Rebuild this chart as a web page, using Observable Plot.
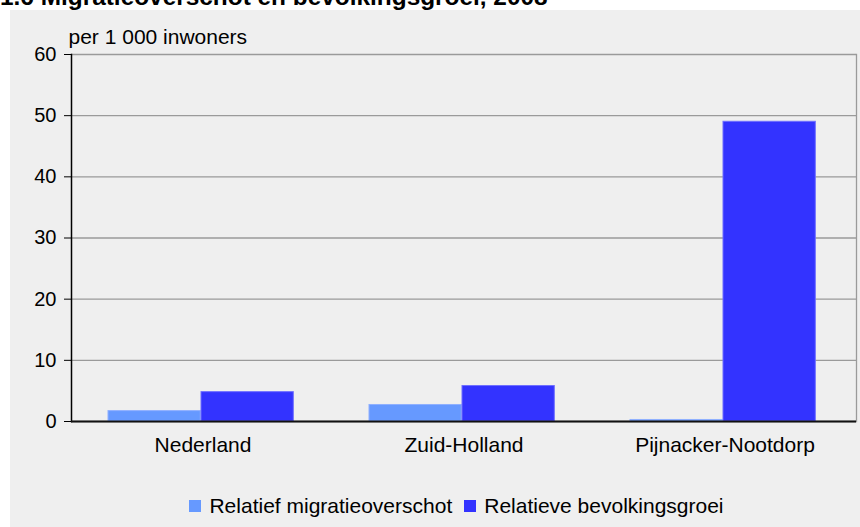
<!DOCTYPE html>
<html>
<head>
<meta charset="utf-8">
<script src="https://cdn.jsdelivr.net/npm/d3@7"></script>
<script src="https://cdn.jsdelivr.net/npm/@observablehq/plot@0.6"></script>
<style>
  html, body { margin: 0; padding: 0; background: #ffffff; width: 860px; height: 527px; overflow: hidden; }
  body { position: relative; font-family: "Liberation Sans", Arial, sans-serif; }
  #title { position: absolute; left: 0px; top: -15px; font-size: 24.4px; font-weight: bold; line-height: 24px; white-space: nowrap; color: #000; }
  #panel { position: absolute; left: 10px; top: 10px; width: 850px; height: 517px; background: #efefef; }
  #chart { position: absolute; left: 10px; top: 10px; }
  #legend { position: absolute; left: 64px; top: 495px; width: 785px; display: flex; justify-content: center; align-items: center; font-size: 21px; line-height: 21px; color: #000; }
  .item { display: flex; align-items: center; margin: 0 6px; }
  .sw { width: 12px; height: 12px; margin-right: 8px; }
</style>
</head>
<body>
<div id="title">1.6 Migratieoverschot en bevolkingsgroei, 2008</div>
<div id="panel"></div>
<div id="chart"></div>
<div id="legend"></div>
<script>
const categories = ["Nederland", "Zuid-Holland", "Pijnacker-Nootdorp"];
const migratieoverschot = [1.7, 2.7, 0.25];
const bevolkingsgroei = [4.8, 5.8, 49.0];
const seriesNames = ["Relatief migratieoverschot", "Relatieve bevolkingsgroei"];
const seriesColors = ["#6699ff", "#3333ff"];
const yTicks = [0, 10, 20, 30, 40, 50, 60];
const yLabel = "per 1 000 inwoners";

const rows1 = categories.map((c, i) => ({cat: c, value: migratieoverschot[i]}));
const rows2 = categories.map((c, i) => ({cat: c, value: bevolkingsgroei[i]}));

const chart = Plot.plot({
  width: 850,
  height: 460,
  marginLeft: 61,
  marginRight: 4,
  marginTop: 44,
  marginBottom: 49,
  style: {fontFamily: "'Liberation Sans', Arial, sans-serif", fontSize: "21px", color: "#000", background: "transparent"},
  x: {domain: categories, padding: 0, label: null, tickSize: 0, tickPadding: 16},
  y: {domain: [0, 60], ticks: yTicks, label: null, tickSize: 7, tickPadding: 8},
  marks: [
    Plot.gridY(yTicks, {stroke: "#9a9a9a", strokeOpacity: 1, strokeWidth: 1.3}),
    Plot.frame({anchor: "right", stroke: "#9a9a9a", strokeWidth: 1.3}),
    Plot.barY(rows1, {x: "cat", y: "value", fill: seriesColors[0], stroke: "#8fb0ff", strokeWidth: 1, insetLeft: 36, insetRight: 132.7}),
    Plot.barY(rows2, {x: "cat", y: "value", fill: seriesColors[1], stroke: "#6f6fff", strokeWidth: 1, insetLeft: 129, insetRight: 39.7}),
    Plot.frame({anchor: "left", stroke: "#000", strokeWidth: 1.5}),
    Plot.ruleY([0], {stroke: "#111", strokeWidth: 2}),
    Plot.axisY({ticks: yTicks, tickSize: 7, tickPadding: 8, fontSize: 20, label: null}),
    Plot.axisX({tickSize: 0, tickPadding: 16, label: null}),
    Plot.text([yLabel], {frameAnchor: "top-left", textAnchor: "start", lineAnchor: "bottom", dx: -3, dy: -11, fill: "#000"})
  ]
});
document.getElementById("chart").appendChild(chart);

const legend = d3.select("#legend");
seriesNames.forEach((name, i) => {
  const item = legend.append("div").attr("class", "item");
  item.append("div").attr("class", "sw").style("background", seriesColors[i]);
  item.append("span").text(name);
});
</script>
</body>
</html>
